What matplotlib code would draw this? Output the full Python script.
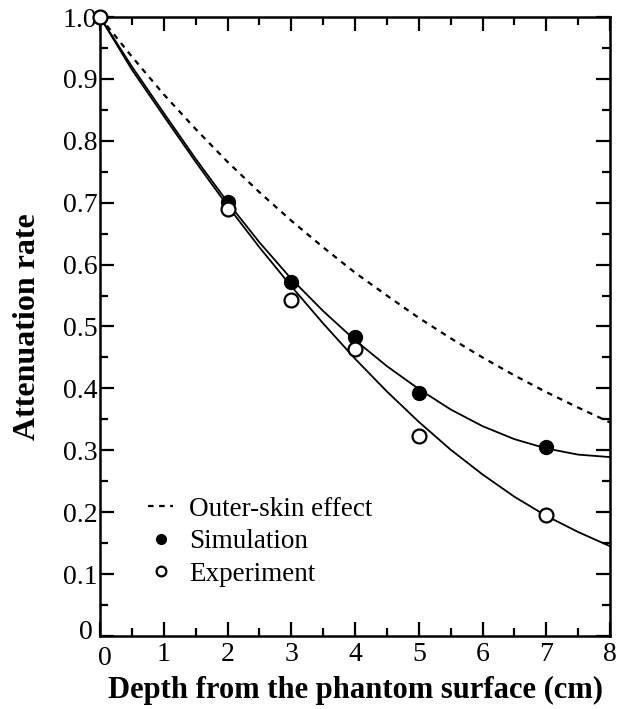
import matplotlib
matplotlib.use("Agg")
import matplotlib.pyplot as plt
from matplotlib.ticker import MultipleLocator
from matplotlib.transforms import ScaledTranslation

plt.rcParams["font.family"] = ["Liberation Serif", "DejaVu Serif"]

# Measured points
depth_pts = [0, 2, 3, 4, 5, 7]
simulation = [1.0, 0.701, 0.572, 0.483, 0.393, 0.305]
experiment = [1.0, 0.690, 0.543, 0.463, 0.323, 0.195]

# Fitted / model curves every 0.5 cm
depth_curve = [0, 0.5, 1, 1.5, 2, 2.5, 3, 3.5, 4, 4.5, 5, 5.5, 6, 6.5, 7, 7.5, 8]
outer_skin = [1.0, 0.936, 0.875, 0.819, 0.766, 0.717, 0.671, 0.628, 0.587,
              0.550, 0.514, 0.481, 0.450, 0.421, 0.394, 0.369, 0.345]
sim_fit = [1.0, 0.920, 0.845, 0.771, 0.701, 0.636, 0.577, 0.525, 0.478,
           0.436, 0.399, 0.366, 0.339, 0.318, 0.303, 0.293, 0.289]
exp_fit = [1.0, 0.915, 0.840, 0.766, 0.695, 0.628, 0.565, 0.505, 0.448,
           0.395, 0.346, 0.301, 0.261, 0.225, 0.194, 0.168, 0.145]

fig = plt.figure(figsize=(6.27, 7.09), dpi=100)
ax = fig.add_axes([0.1595, 0.103, 0.8134, 0.873])

ax.plot(depth_curve, outer_skin, color="black", lw=1.6, ls=(0, (2.5, 2.5)),
        label="Outer-skin effect")
ax.plot(depth_curve, sim_fit, color="black", lw=1.3)
ax.plot(depth_curve, exp_fit, color="black", lw=1.3)
ax.plot(depth_pts, simulation, "o", color="black", ms=10, ls="none",
        label="Simulation", clip_on=False, zorder=3)
ax.plot(depth_pts, experiment, "o", mfc="white", mec="black", mew=1.6, ms=10,
        ls="none", label="Experiment", clip_on=False, zorder=4)

ax.set_xlim(0, 8)
ax.set_ylim(0, 1.0)
ax.set_xticks([0, 1, 2, 3, 4, 5, 6, 7, 8])
ax.xaxis.set_minor_locator(MultipleLocator(0.5))
ax.yaxis.set_minor_locator(MultipleLocator(0.05))
ax.set_yticks([0, 0.1, 0.2, 0.3, 0.4, 0.5, 0.6, 0.7, 0.8, 0.9, 1.0])
ax.set_yticklabels(["0", "0.1", "0.2", "0.3", "0.4", "0.5", "0.6", "0.7",
                    "0.8", "0.9", "1.0"])

ax.tick_params(which="both", direction="in", top=True, right=True,
               labelsize=20, width=1.6)
ax.tick_params(which="major", length=10)
ax.tick_params(axis="y", which="major", pad=2)
ax.tick_params(axis="x", which="major", pad=4)
ax.tick_params(which="minor", length=6)
for s in ax.spines.values():
    s.set_linewidth(1.8)

# nudge the two "0" labels apart at the corner, as in the original
lbl = ax.get_xticklabels()[0]
lbl.set_transform(lbl.get_transform() + ScaledTranslation(5 / 100, -4 / 100, fig.dpi_scale_trans))
lbl = ax.get_yticklabels()[0]
lbl.set_transform(lbl.get_transform() + ScaledTranslation(-4 / 100, 6 / 100, fig.dpi_scale_trans))

ax.set_xlabel("Depth from the phantom surface (cm)", fontsize=22,
              fontweight="bold", labelpad=4)
ax.set_ylabel("Attenuation rate", fontsize=23, fontweight="bold", labelpad=15)

ax.legend(loc="lower left", bbox_to_anchor=(0.047, 0.04), frameon=False,
          fontsize=19.5, handlelength=0.9, handletextpad=0.6,
          labelspacing=0.28, markerscale=0.7)

fig.savefig("out.png", dpi=100)
